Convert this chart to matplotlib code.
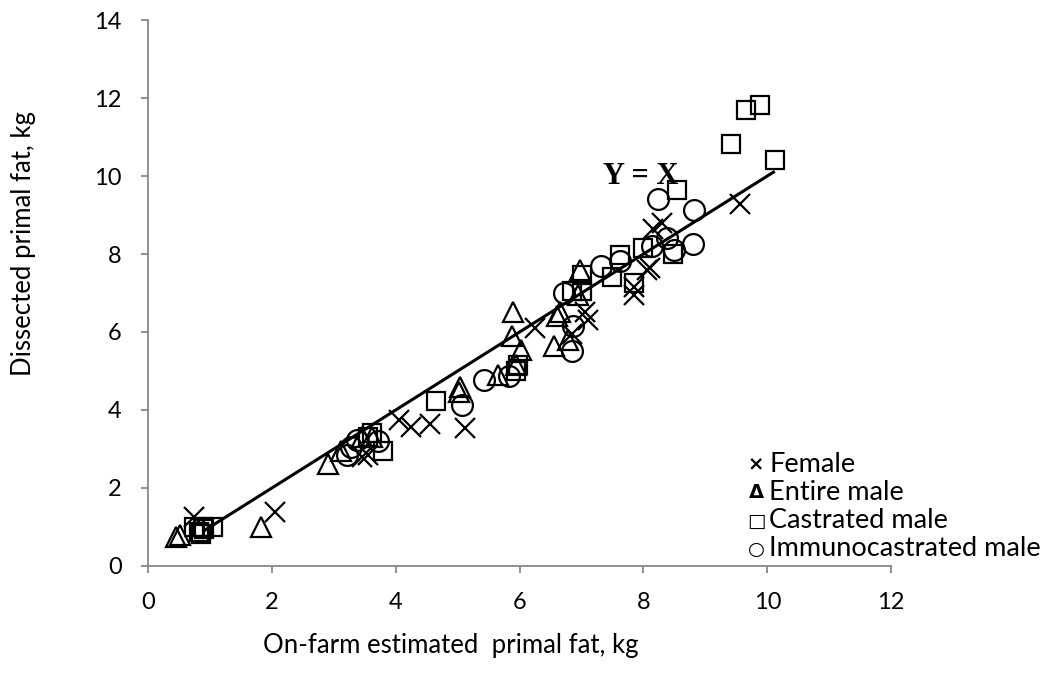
import matplotlib
matplotlib.use('Agg')
import matplotlib.pyplot as plt

plt.rcParams['font.family'] = ['Lato', 'DejaVu Sans']

# Female (x marker)
female_x = [0.75, 2.05, 3.45, 3.55, 4.05, 4.25, 4.55, 5.12, 6.25, 6.85, 7.05, 7.10,
            7.85, 7.85, 8.05, 8.10, 8.15, 8.30, 9.56]
female_y = [1.25, 1.38, 2.80, 2.85, 3.75, 3.57, 3.65, 3.55, 6.10, 5.95, 6.50, 6.30,
            6.95, 7.15, 7.60, 7.65, 8.65, 8.80, 9.28]

# Entire male (triangles)
entire_x = [0.45, 0.52, 1.82, 2.90, 3.12, 3.45, 3.62, 5.02, 5.03, 5.65, 5.95, 6.02,
            5.88, 5.90, 6.55, 6.78, 6.60, 6.65, 6.95, 6.98]
entire_y = [0.75, 0.80, 1.00, 2.62, 2.95, 3.30, 3.30, 4.45, 4.60, 4.90, 5.15, 5.55,
            5.90, 6.50, 5.65, 5.80, 6.40, 6.50, 6.95, 7.60]

# Castrated male (squares)
castrated_x = [0.75, 0.82, 0.85, 0.90, 0.88, 1.05, 3.55, 3.62, 3.80, 4.65, 5.95, 5.98,
               6.85, 7.00, 7.00, 7.50, 7.62, 7.85, 8.00, 8.48, 8.55, 9.42, 9.65, 9.88, 10.12]
castrated_y = [1.00, 0.88, 0.82, 0.95, 1.00, 1.00, 3.30, 3.42, 2.95, 4.22, 5.00, 5.15,
               7.05, 7.05, 7.45, 7.40, 7.97, 7.25, 8.15, 8.00, 9.63, 10.83, 11.70, 11.83, 10.40]

# Immunocastrated male (circles)
immuno_x = [3.22, 3.28, 3.37, 3.72, 5.07, 5.42, 5.83, 6.84, 6.86, 6.72, 7.32, 7.62,
            8.14, 8.24, 8.38, 8.50, 8.80, 8.82]
immuno_y = [2.85, 3.05, 3.22, 3.20, 4.12, 4.77, 4.87, 5.52, 6.15, 7.00, 7.68, 7.82,
            8.20, 9.42, 8.42, 8.10, 8.25, 9.12]

# Y = X reference line
line_x = [0.9, 10.1]
line_y = [0.9, 10.1]

legend_labels = ['Female', 'Entire male', 'Castrated male', 'Immunocastrated male']
legend_symbols = ['\u00d7', '\u0394', '\u25a1', '\u25cb']

fig = plt.figure(figsize=(10.5, 6.81), dpi=100)
ax = fig.add_axes([0.141, 0.1689, 0.7077, 0.8017])

ax.plot(line_x, line_y, color='black', lw=2.2, zorder=2)

common = dict(linestyle='none', markerfacecolor='none', markeredgecolor='black',
              markeredgewidth=1.6, zorder=3)
ax.plot(female_x, female_y, marker='x', markersize=15, **common)
ax.plot(entire_x, entire_y, marker='^', markersize=15, **common)
ax.plot(castrated_x, castrated_y, marker='s', markersize=13.5, **common)
ax.plot(immuno_x, immuno_y, marker='o', markersize=15, **common)

ax.text(7.96, 10.0, 'Y = X', family='Liberation Serif', fontweight='bold',
        fontsize=22, ha='center', va='center')

ax.set_xlim(0, 12)
ax.set_ylim(0, 14)
ax.set_xticks(range(0, 13, 2))
ax.set_yticks(range(0, 15, 2))

for side in ['top', 'right']:
    ax.spines[side].set_visible(False)
for side in ['left', 'bottom']:
    ax.spines[side].set_color('#888888')
    ax.spines[side].set_linewidth(1.3)
ax.tick_params(axis='both', direction='out', length=5, width=1.3, color='#888888',
               labelsize=17)
ax.tick_params(axis='y', pad=14)
ax.tick_params(axis='x', pad=14)

fig.text(451 / 1050, 1 - 645 / 681, 'On-farm estimated  primal fat, kg', fontsize=18.5,
         ha='center', va='center')
fig.text(24 / 1050, 1 - 244 / 681, 'Dissected primal fat, kg', fontsize=18.5,
         rotation=90, ha='center', va='center')

for i, (sym, lab) in enumerate(zip(legend_symbols, legend_labels)):
    yy = 1 - (465 + 28 * i) / 681
    fig.text(756 / 1050, yy, sym, fontsize=14, fontweight='bold' if i < 2 else 'normal',
             family='DejaVu Sans', ha='center', va='center')
    fig.text(769 / 1050, yy, lab, fontsize=19.5, ha='left', va='center')

fig.savefig('out.png', dpi=100)
